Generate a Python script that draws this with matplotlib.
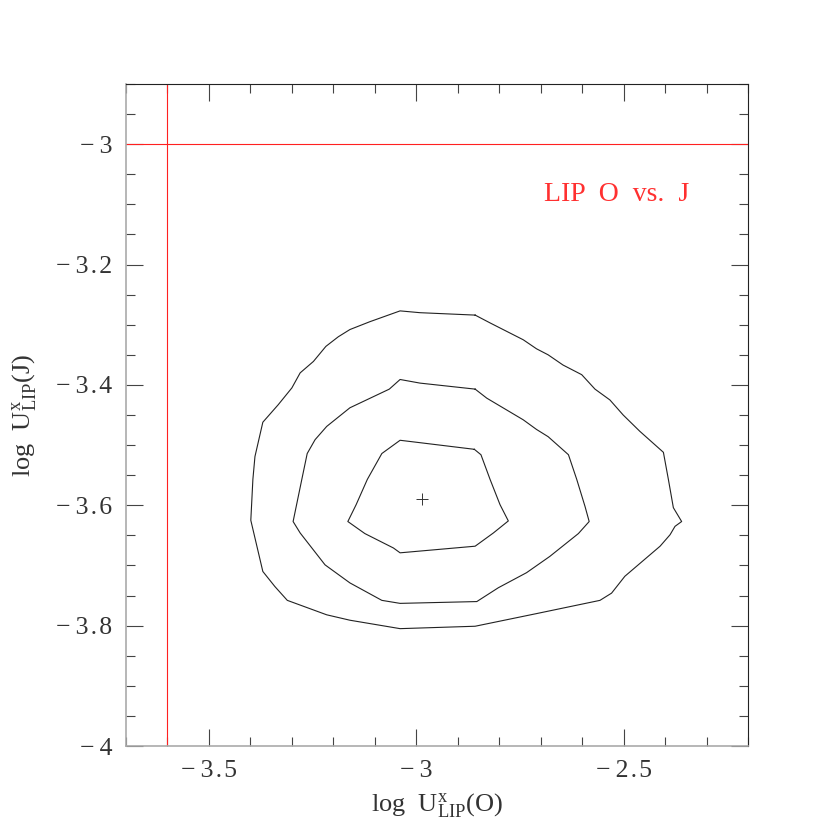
import matplotlib
matplotlib.use("Agg")
import matplotlib.pyplot as plt
from matplotlib.ticker import MultipleLocator, FixedLocator, FixedFormatter

plt.rcParams['font.family'] = ['Liberation Serif', 'DejaVu Serif']
plt.rcParams['mathtext.fontset'] = 'custom'
plt.rcParams['mathtext.rm'] = 'Liberation Serif'
plt.rcParams['mathtext.it'] = 'Liberation Serif:italic'

# ---- data ----
outer_x = [-2.858, -2.991, -3.039, -3.112, -3.160, -3.188, -3.218, -3.248, -3.280, -3.300,
           -3.333, -3.370, -3.389, -3.394, -3.399, -3.370, -3.341, -3.311, -3.216, -3.160,
           -3.039, -2.858, -2.710, -2.557, -2.529, -2.497, -2.412, -2.388, -2.376, -2.360,
           -2.380, -2.392, -2.404, -2.461, -2.501, -2.533, -2.569, -2.601, -2.646, -2.682,
           -2.710, -2.742, -2.822, -2.858]
outer_y = [-3.284, -3.280, -3.277, -3.295, -3.308, -3.320, -3.336, -3.361, -3.380, -3.405,
           -3.433, -3.462, -3.519, -3.557, -3.625, -3.710, -3.735, -3.758, -3.782, -3.791,
           -3.805, -3.801, -3.780, -3.758, -3.746, -3.718, -3.668, -3.649, -3.635, -3.627,
           -3.604, -3.557, -3.512, -3.477, -3.450, -3.425, -3.407, -3.383, -3.367, -3.350,
           -3.340, -3.325, -3.297, -3.284]

middle_x = [-2.858, -2.991, -3.039, -3.065, -3.160, -3.216, -3.244, -3.263, -3.276, -3.297,
            -3.280, -3.220, -3.160, -3.083, -3.039, -2.854, -2.802, -2.734, -2.678, -2.609,
            -2.583, -2.593, -2.613, -2.633, -2.682, -2.710, -2.742, -2.830, -2.858]
middle_y = [-3.407, -3.397, -3.391, -3.407, -3.438, -3.469, -3.491, -3.514, -3.557, -3.627,
            -3.646, -3.699, -3.729, -3.758, -3.763, -3.760, -3.737, -3.712, -3.685, -3.647,
            -3.627, -3.602, -3.557, -3.516, -3.486, -3.474, -3.458, -3.422, -3.407]

inner_x = [-2.860, -2.991, -3.039, -3.083, -3.118, -3.145, -3.165, -3.124, -3.055, -3.039,
           -2.858, -2.814, -2.778, -2.798, -2.822, -2.844, -2.860]
inner_y = [-3.507, -3.496, -3.492, -3.514, -3.557, -3.599, -3.627, -3.647, -3.671, -3.679,
           -3.668, -3.646, -3.626, -3.599, -3.557, -3.516, -3.507]

best_x = [-2.985]
best_y = [-3.59]

ref_x = -3.6
ref_y = -3.0

x_ticks = [-3.5, -3.0, -2.5]
x_ticklabels = ['\u2212\u20093\u200a.\u200a5', '\u2212\u20093', '\u2212\u20092\u200a.\u200a5']
y_ticks = [-4.0, -3.8, -3.6, -3.4, -3.2, -3.0]
y_ticklabels = ['\u2212\u20094', '\u2212\u20093\u200a.\u200a8', '\u2212\u20093\u200a.\u200a6',
                '\u2212\u20093\u200a.\u200a4', '\u2212\u20093\u200a.\u200a2', '\u2212\u20093']

# ---- figure ----
fig = plt.figure(figsize=(8.3, 8.3), dpi=100)
ax = fig.add_axes([0.1518, 0.1012, 0.7494, 0.7976])

for xs, ys in [(outer_x, outer_y), (middle_x, middle_y), (inner_x, inner_y)]:
    ax.plot(xs, ys, color='#222222', lw=0.8)

ax.plot(best_x, best_y, marker='+', color='#333333', ms=8, mew=0.7, ls='none')

ax.axvline(ref_x, color='#ff2020', lw=0.8)
ax.axhline(ref_y, color='#ff2020', lw=0.8)

ax.text(-2.517, -3.084, 'LIP  O  vs.  J', color='#ff3030', fontsize=20,
        ha='center', va='center')

ax.set_xlim(-3.7, -2.2)
ax.set_ylim(-4.0, -2.9)

ax.xaxis.set_major_locator(FixedLocator(x_ticks))
ax.xaxis.set_major_formatter(FixedFormatter(x_ticklabels))
ax.yaxis.set_major_locator(FixedLocator(y_ticks))
ax.yaxis.set_major_formatter(FixedFormatter(y_ticklabels))
ax.xaxis.set_minor_locator(MultipleLocator(0.1))
ax.yaxis.set_minor_locator(MultipleLocator(0.05))

ax.tick_params(which='both', direction='in', top=True, right=True,
               colors='#444444', labelcolor='#333333', labelsize=18.5, width=0.8)
ax.tick_params(which='major', length=12.5, pad=10)
ax.tick_params(which='minor', length=6.5)

for side in ['left', 'bottom']:
    ax.spines[side].set_color('#aaaaaa')
    ax.spines[side].set_linewidth(1.2)
for side in ['top', 'right']:
    ax.spines[side].set_color('#222222')
    ax.spines[side].set_linewidth(0.8)

ax.set_xlabel(r'log  U$^{\rm x}_{\rm LIP}$(O)', fontsize=19, color='#333333', labelpad=7)
ax.set_ylabel(r'log  U$^{\rm x}_{\rm LIP}$(J)', fontsize=19, color='#333333', labelpad=12)

fig.savefig('out.png', dpi=100)
